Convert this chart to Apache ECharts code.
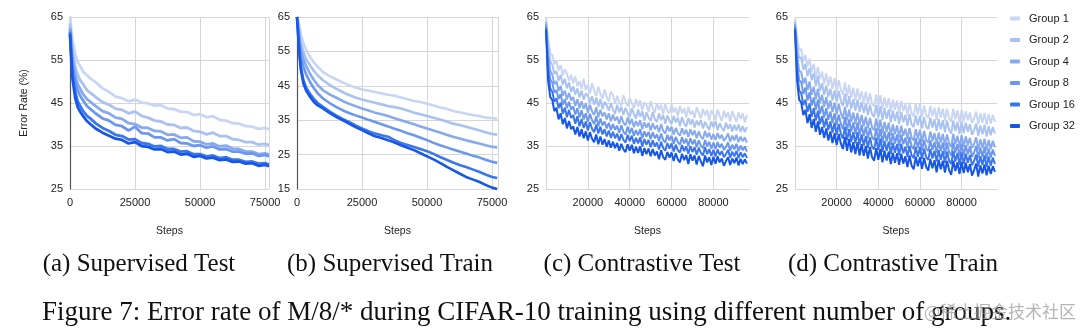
<!DOCTYPE html>
<html>
<head>
<meta charset="utf-8">
<script src="https://cdn.jsdelivr.net/npm/echarts@6/dist/echarts.min.js"></script>
<style>
html,body{margin:0;padding:0;background:#fff;}
#chart{width:1080px;height:333px;}
</style>
</head>
<body>
<div id="chart"></div>
<script>
// ---------- DATA ----------
const groupNames = ['Group 1','Group 2','Group 4','Group 8','Group 16','Group 32'];
const panelCaptions = ['(a) Supervised Test','(b) Supervised Train','(c) Contrastive Test','(d) Contrastive Train'];
const figureCaption = 'Figure 7: Error rate of M/8/* during CIFAR-10 training using different number of groups.';
const watermark = '@稀土掘金技术社区';
const yAxisName = 'Error Rate (%)';
const xAxisName = 'Steps';

// (a) Supervised Test
const stepsA = [0,500,1000,2000,3000,4000,5000,6500,8000,10000,12500,15000,17500,20000,22500,25000,27500,30000,32500,35000,37500,40000,42500,45000,47500,50000,52500,55000,57500,60000,62500,65000,67500,70000,72500,75000,76500];
const supTestG1 = [65,62,59.5,56.5,54.5,53.5,52.3,51.5,50.6,49.8,48.4,47.6,46.5,46.1,45.4,45.8,45.1,44.9,44.4,44.5,43.7,43.6,43.0,42.9,42.2,42.4,41.7,41.9,41.1,40.9,40.3,40.2,39.6,39.5,39.0,39.2,38.9];
const supTestG2 = [63.5,60,57,53.5,51.5,50.2,49.4,48.0,47.3,46.3,45.2,44.6,43.7,43.4,42.6,43.0,42.0,41.6,40.9,40.7,40.0,39.9,39.2,39.3,38.5,38.3,37.7,38.1,37.3,37.3,36.6,36.4,35.9,35.9,35.3,35.5,35.2];
const supTestG4 = [62.5,58.5,55,51.5,49.3,48.2,47.1,45.9,45.2,44.2,43.1,42.6,41.6,41.3,40.3,40.1,39.3,39.2,38.5,38.4,37.6,37.7,36.9,37.0,36.1,36.0,35.4,35.6,34.9,35.1,34.4,34.3,33.7,33.7,33.1,33.3,33.0];
const supTestG8 = [62,57.5,53.5,50,47.8,46.6,45.6,44.3,43.5,42.5,41.4,40.9,39.9,39.6,38.6,39.5,38.0,37.9,37.0,37.0,36.3,36.6,35.7,35.6,35.0,35.2,34.6,34.9,34.2,34.3,33.7,33.7,33.2,33.3,32.7,32.9,32.6];
const supTestG16 = [61.5,56,51.5,47.5,45.4,44.2,43.2,42.0,41.3,40.2,39.2,38.5,37.6,37.3,36.5,36.6,35.7,35.5,34.9,35.0,34.3,34.3,33.7,33.8,33.1,33.1,32.6,32.8,32.2,32.4,31.8,31.8,31.3,31.4,30.9,31.0,30.7];
const supTestG32 = [61,55,50.5,46.2,44.0,42.9,42.0,40.8,40.0,39.0,38.1,37.4,36.7,36.4,35.6,35.9,35.0,34.8,34.2,34.3,33.6,33.7,33.0,33.2,32.5,32.7,32.1,32.3,31.7,31.9,31.3,31.4,30.9,31.0,30.4,30.6,30.3];

// (b) Supervised Train
const stepsB = [0,500,1000,1500,2500,3500,5000,6500,8000,10000,12500,15000,17500,20000,22500,25000,27500,30000,32500,35000,37500,40000,42500,45000,47500,50000,52500,55000,57500,60000,62500,65000,67500,70000,72500,75000,77000];
const supTrainG1 = [65,64,62,60,57.3,55.5,53.4,51.8,50.5,49.0,47.8,46.9,46.0,45.2,44.5,43.9,43.6,43.2,42.8,42.4,42.1,41.6,41.1,40.6,40.3,39.8,39.3,38.7,38.3,37.7,37.3,36.9,36.5,36.2,35.8,35.6,35.4];
const supTrainG2 = [65,63,60,57.5,54.8,52.8,51.0,49.3,48.0,46.6,45.3,44.2,43.2,42.3,41.6,41.0,40.5,40.1,39.6,39.1,38.8,38.4,37.8,37.2,36.7,36.2,35.7,35.2,34.6,34.0,33.6,33.1,32.6,32.1,31.5,31.0,30.8];
const supTrainG4 = [65,62,58.5,55.5,52.9,50.8,48.5,46.7,45.2,43.7,42.5,41.6,40.6,39.8,39.1,38.4,37.8,37.2,36.7,36.2,35.6,35.0,34.4,33.8,33.2,32.6,32.0,31.4,30.8,30.2,29.7,29.2,28.7,28.2,27.7,27.3,27.1];
const supTrainG8 = [65,61,57,53.5,50.5,48.3,46.1,44.3,42.8,41.3,40.0,38.9,37.9,37.1,36.4,35.8,35.1,34.5,33.8,33.2,32.5,31.9,31.2,30.6,29.9,29.2,28.4,27.7,27.1,26.5,25.9,25.3,24.7,24.2,23.5,22.9,22.6];
const supTrainG16 = [65,59.5,54.5,50.5,46.6,44.5,42.7,41.2,40.0,38.9,37.6,36.4,35.4,34.5,33.5,32.6,31.8,31.1,30.6,30.2,29.2,28.4,27.8,27.2,26.6,26.0,25.2,24.3,23.5,22.7,22.0,21.4,20.7,20.0,19.2,18.5,18.2];
const supTrainG32 = [65,59,53.5,49.5,45.6,43.6,41.8,40.3,39.3,38.4,37.1,36.0,35.0,34.0,33.0,32.1,31.2,30.3,29.8,29.2,28.5,27.7,27.0,26.3,25.4,24.5,23.6,22.6,21.5,20.5,19.5,18.5,17.8,17.1,16.2,15.4,15.0];

// (c) Contrastive Test and (d) Contrastive Train: logged every 1000 steps, 0..96000
const stepsCD = [0,1000,2000,3000,4000,5000,6000,7000,8000,9000,
 10000,11000,12000,13000,14000,15000,16000,17000,18000,19000,
 20000,21000,22000,23000,24000,25000,26000,27000,28000,29000,
 30000,31000,32000,33000,34000,35000,36000,37000,38000,39000,
 40000,41000,42000,43000,44000,45000,46000,47000,48000,49000,
 50000,51000,52000,53000,54000,55000,56000,57000,58000,59000,
 60000,61000,62000,63000,64000,65000,66000,67000,68000,69000,
 70000,71000,72000,73000,74000,75000,76000,77000,78000,79000,
 80000,81000,82000,83000,84000,85000,86000,87000,88000,89000,
 90000,91000,92000,93000,94000,95000,96000];

const conTestG1 = [65,60.2,56.6,56.1,54.0,54.9,52.6,53.8,51.4,52.9,
 51.8,50.2,51.6,49.6,51.2,48.9,50.1,48.3,50.6,48.0,
 49.3,47.2,49.6,47.9,46.6,48.8,47.1,46.0,48.2,46.4,
 45.3,47.6,46.9,44.8,46.7,45.1,44.4,46.8,45.4,44.2,
 46.1,44.9,43.8,45.9,44.2,45.6,43.3,45.2,44.6,42.9,
 45.4,43.8,42.8,45.0,43.4,44.6,42.4,44.8,43.1,42.6,
 44.7,42.8,43.9,41.9,44.3,42.6,43.8,41.7,44.1,42.3,
 43.2,41.5,44.0,42.8,41.4,43.6,42.1,43.4,41.0,43.3,
 42.4,41.1,43.5,42.0,40.8,43.2,41.6,42.9,40.7,43.1,
 41.9,40.6,42.8,41.3,42.6,40.5,42.2];
const conTestG2 = [64,58.3,54.6,53.9,51.8,52.4,50.2,51.5,49.3,50.6,
 48.4,49.8,47.6,48.9,47.0,48.4,46.3,47.9,45.8,47.2,
 46.8,45.1,46.6,44.6,46.2,44.1,45.9,43.6,45.3,44.5,
 43.2,45.0,43.4,42.5,44.6,42.8,44.1,42.2,43.9,42.6,
 41.7,43.8,42.4,41.4,43.5,41.8,43.1,40.9,42.8,41.6,
 40.8,42.9,41.2,40.6,42.6,41.0,42.2,40.2,42.1,40.9,
 40.1,42.0,40.5,41.6,39.6,41.7,40.2,39.5,41.5,40.0,
 41.2,39.3,40.9,39.8,41.0,39.1,40.6,39.6,38.8,40.7,
 39.4,40.8,38.7,40.3,39.2,38.5,40.4,39.0,40.1,38.4,
 39.9,38.6,40.0,38.3,39.6,38.2,39.4];
const conTestG4 = [63.5,56.2,52.5,51.6,49.4,50.1,47.8,49.0,46.7,47.9,
 45.8,47.4,45.6,46.4,44.3,45.9,43.8,45.4,43.6,44.9,
 42.7,44.6,43.1,42.2,44.0,41.7,43.4,41.9,42.8,41.2,
 42.6,40.7,42.3,40.9,41.8,40.1,41.9,40.4,39.8,41.6,
 40.0,41.3,39.4,40.8,39.6,41.0,38.9,40.5,39.3,40.4,
 38.6,40.3,38.9,39.8,38.2,40.1,38.5,37.9,39.7,38.4,
 39.5,37.6,39.2,38.0,37.4,39.1,37.7,38.8,37.1,38.9,
 37.5,38.6,36.8,38.4,37.2,36.6,38.5,37.0,38.1,36.5,
 37.8,36.4,38.0,36.7,37.6,36.2,36.9,37.9,36.0,37.4,
 36.3,37.6,35.9,37.2,36.1,37.0,35.8];
const conTestG8 = [63,54.3,50.5,49.7,47.4,48.0,45.9,47.1,44.6,45.9,
 43.8,45.3,43.5,44.2,42.3,43.8,41.7,43.3,41.2,42.6,
 40.6,42.5,41.0,40.1,41.9,39.6,41.4,39.8,40.7,39.1,
 40.4,38.7,40.1,38.8,39.7,38.1,39.8,38.3,37.7,39.5,
 37.9,39.2,37.4,38.7,37.5,38.9,36.8,38.4,37.2,38.3,
 36.6,38.2,36.8,37.7,36.1,37.9,36.4,35.8,37.6,36.3,
 37.4,35.5,37.1,35.9,35.3,37.0,35.6,36.7,35.0,36.8,
 35.4,36.5,34.7,36.3,35.1,34.5,36.4,34.9,36.0,34.4,
 35.8,34.3,35.9,34.6,35.5,34.1,34.8,35.8,33.9,35.3,
 34.2,35.5,33.8,35.1,34.0,34.9,33.7];
const conTestG16 = [62.5,52.4,48.4,47.6,45.3,46.1,43.8,45.1,42.5,43.9,
 41.7,43.4,41.5,42.2,40.2,41.9,39.6,41.3,39.2,40.7,
 38.6,40.5,39.0,38.2,40.0,37.9,39.5,37.7,38.9,37.2,
 38.6,36.9,38.3,36.8,37.9,36.2,37.8,36.4,35.8,37.6,
 36.1,37.4,35.5,36.9,35.6,37.0,34.9,36.6,35.3,36.4,
 34.7,36.3,34.9,35.8,34.2,36.0,34.5,33.9,35.7,34.4,
 35.6,33.7,35.3,34.0,33.5,35.2,33.8,34.9,33.2,35.0,
 33.6,34.7,33.0,34.6,33.4,32.8,34.7,33.1,34.3,32.7,
 34.1,32.6,34.2,32.9,33.8,32.4,33.1,34.1,32.3,33.7,
 32.6,33.9,32.2,33.5,32.4,33.3,32.2];
const conTestG32 = [62,50.3,46.4,45.7,43.1,43.9,41.2,42.6,40.1,41.5,
 39.1,40.8,38.9,39.6,37.7,39.4,37.2,38.9,36.8,38.4,
 36.3,38.2,36.7,35.9,37.7,35.4,37.2,35.3,36.6,34.8,
 36.3,34.6,36.0,34.5,35.7,33.9,35.5,34.2,33.6,35.4,
 33.9,35.3,33.3,34.8,33.4,34.9,32.7,34.5,33.1,34.4,
 32.6,34.3,32.8,33.7,31.9,34.0,32.4,31.8,33.6,32.3,
 33.5,31.5,33.3,31.9,31.2,33.2,31.7,32.9,30.8,33.1,
 31.6,32.8,30.7,32.7,31.4,30.3,32.8,31.2,32.4,30.6,
 32.5,30.9,32.6,31.2,32.1,30.4,31.5,32.4,30.6,32.1,
 31.0,32.3,30.5,32.0,30.8,31.9,30.9];

const conTrainG1 = [64.5,60.4,57.3,57.6,54.6,56.2,53.5,55.3,52.2,54.1,
 50.9,53.4,50.6,52.3,49.4,51.9,49.0,51.2,48.3,50.8,
 47.7,50.3,48.1,46.9,49.8,46.5,49.2,46.2,48.5,45.7,
 48.4,45.6,47.7,45.1,47.6,44.7,47.2,44.9,44.2,47.0,
 44.1,46.8,43.6,46.3,43.9,46.1,42.9,45.8,43.4,45.6,
 42.6,45.5,43.1,44.8,42.2,45.1,42.6,41.9,44.9,42.3,
 44.8,41.7,44.4,42.1,41.5,44.3,41.9,43.9,41.1,44.0,
 41.6,43.7,40.8,43.6,41.4,40.6,43.7,41.2,43.3,40.5,
 43.4,40.7,43.1,41.0,42.8,40.3,41.4,43.0,40.1,42.6,
 40.4,42.7,39.9,42.4,40.2,42.2,40.6];
const conTrainG2 = [64,58.2,55.4,55.6,52.7,54.1,51.2,53.1,50.3,52.0,
 48.9,51.3,47.8,49.6,46.9,49.1,46.4,48.3,45.6,47.9,
 45.3,47.8,45.6,44.3,47.1,44.0,46.6,43.6,45.9,43.2,
 45.8,42.9,45.3,42.7,44.9,42.2,44.6,42.4,41.8,44.5,
 41.6,44.2,41.1,43.8,41.3,43.5,40.5,43.2,40.8,43.0,
 40.1,42.9,40.5,42.2,39.7,42.4,40.0,39.4,42.1,39.8,
 42.0,39.1,41.7,39.5,38.9,41.6,39.3,41.2,38.5,41.3,
 38.9,41.0,38.2,40.9,38.8,37.9,40.9,38.5,40.6,37.8,
 40.7,38.0,40.4,38.3,40.1,37.6,38.7,40.2,37.4,39.8,
 37.7,39.9,37.2,39.6,37.5,39.4,37.9];
const conTrainG4 = [63.5,56.3,52.4,52.2,49.5,50.9,48.0,50.0,46.9,48.8,
 45.9,48.3,45.0,46.9,44.1,46.4,43.6,45.6,42.9,45.1,
 42.4,44.8,42.7,41.3,44.1,40.9,43.5,40.6,42.8,40.1,
 42.7,39.8,42.2,39.6,41.8,39.1,41.5,39.3,38.7,41.4,
 38.5,41.1,38.0,40.6,38.3,40.4,37.4,40.0,37.7,39.8,
 37.0,39.7,37.4,39.0,36.6,39.2,36.9,36.3,38.9,36.6,
 38.8,36.0,38.5,36.4,35.8,38.4,36.1,38.0,35.4,38.1,
 35.8,37.8,35.1,37.7,35.6,34.8,37.8,35.4,37.4,34.6,
 37.5,34.8,37.2,35.1,36.9,34.5,35.5,37.0,34.2,36.6,
 34.5,36.7,34.0,36.4,34.3,36.2,34.7];
const conTrainG8 = [63,54.4,50.3,49.9,47.1,48.6,45.6,47.5,44.4,46.3,
 43.4,45.8,42.5,44.3,41.6,43.8,41.1,43.0,40.4,42.6,
 39.9,42.3,40.2,38.9,41.7,38.6,41.2,38.3,40.5,37.8,
 40.4,37.5,39.9,37.3,39.5,36.8,39.2,37.0,36.4,39.1,
 36.3,38.9,35.8,38.4,36.1,38.2,35.3,37.9,35.6,37.7,
 35.0,37.6,35.4,36.9,34.6,37.1,34.9,34.3,36.8,34.6,
 36.7,34.0,36.4,34.4,33.8,36.3,34.1,35.9,33.4,36.0,
 33.8,35.8,33.1,35.7,33.6,32.8,35.8,33.4,35.4,32.6,
 35.5,32.8,35.2,33.1,34.9,32.5,33.5,35.0,32.2,34.6,
 32.5,34.7,32.0,34.4,32.3,34.2,32.7];
const conTrainG16 = [62.5,52.3,47.9,47.3,44.5,45.8,42.9,44.9,41.8,43.8,
 40.9,43.2,40.1,41.9,39.3,41.4,38.7,40.7,38.1,40.4,
 37.6,40.1,37.9,36.7,39.4,36.3,38.9,36.0,38.2,35.6,
 38.2,35.3,37.7,35.1,37.3,34.6,37.0,34.8,34.2,36.9,
 34.1,36.7,33.6,36.2,33.9,36.0,33.1,35.7,33.4,35.5,
 32.9,35.5,33.3,34.8,32.5,35.0,32.8,32.2,34.7,32.5,
 34.7,32.0,34.4,32.4,31.8,34.3,32.1,33.9,31.4,34.0,
 31.8,33.8,31.1,33.7,31.6,30.8,33.8,31.4,33.4,30.6,
 33.5,30.8,33.2,31.1,32.9,30.5,31.5,33.0,30.2,32.6,
 30.6,32.8,30.1,32.5,30.4,32.3,30.8];
const conTrainG32 = [62,50.2,45.8,45.1,42.2,43.4,40.3,42.4,39.2,41.3,
 38.3,40.7,37.6,39.4,36.9,39.1,36.3,38.4,35.7,38.0,
 35.2,37.8,35.6,34.3,37.1,33.9,36.6,33.5,35.9,33.1,
 35.9,32.8,35.4,32.7,35.0,32.1,34.7,32.4,31.6,34.5,
 31.8,34.3,31.2,33.9,31.6,33.7,30.8,33.4,31.1,33.3,
 30.6,33.2,30.9,32.6,30.1,32.8,30.4,29.6,32.5,30.3,
 32.4,29.7,32.2,30.1,29.3,32.0,29.8,31.7,28.9,31.8,
 29.6,31.6,28.8,31.5,29.4,28.3,31.6,29.2,31.2,28.5,
 31.3,28.7,31.1,28.9,30.8,28.1,29.4,30.9,27.9,30.5,
 28.6,30.7,28.2,30.4,28.5,30.3,29.0];

const yTicksA = {min:25, max:65, interval:10};
const yTicksB = {min:15, max:65, interval:10};

// ---------- STYLE / LAYOUT ----------
const colors = ['#c8d6f4','#a9c2f2','#87a9ee','#6c97ef','#3b76ec','#1657e8'];
const axisFont = '"Liberation Sans", Arial, sans-serif';
const serifFont = '"Liberation Serif", "Times New Roman", serif';
const grids = [
  {left:70, top:17, width:199, height:172},
  {left:297, top:17, width:201, height:172},
  {left:546, top:17, width:203, height:172},
  {left:795, top:17, width:202, height:172}
];
const xMax = [76500, 77300, 97000, 97000];
const xInterval = [25000, 25000, 20000, 20000];
const lineWidths = [2.8, 2.6, 2, 2];
const panelSteps = [stepsA, stepsB, stepsCD, stepsCD];
const panelData = [
  [supTestG1,supTestG2,supTestG4,supTestG8,supTestG16,supTestG32],
  [supTrainG1,supTrainG2,supTrainG4,supTrainG8,supTrainG16,supTrainG32],
  [conTestG1,conTestG2,conTestG4,conTestG8,conTestG16,conTestG32],
  [conTrainG1,conTrainG2,conTrainG4,conTrainG8,conTrainG16,conTrainG32]
];
const yRanges = [yTicksA, yTicksB, yTicksA, yTicksA];
const gridColor = '#d6d6d6';
const textColor = '#222';

const xAxes = grids.map((g,i)=>({
  type:'value', gridIndex:i, min:0, max:xMax[i], interval:xInterval[i],
  axisLine:{show:false}, axisTick:{show:false},
  axisLabel:{fontSize:11, color:textColor, fontFamily:axisFont, margin:8,
    showMaxLabel:false, showMinLabel: i<2, formatter:v=>String(v)},
  splitLine:{show:true, lineStyle:{color:gridColor, width:1}, showMaxLine: i<2},
  name:xAxisName, nameLocation:'middle', nameGap:37,
  nameTextStyle:{fontSize:10.5, color:textColor, fontFamily:axisFont}
}));
const yAxes = grids.map((g,i)=>({
  type:'value', gridIndex:i, min:yRanges[i].min, max:yRanges[i].max, interval:yRanges[i].interval,
  axisLine:{show: i<2, lineStyle:{color:'#555', width:1.2}}, axisTick:{show:false},
  axisLabel:{fontSize:11, color:textColor, fontFamily:axisFont, margin:7},
  splitLine:{show:true, lineStyle:{color:gridColor, width:1}},
  name: i===0 ? yAxisName : '', nameLocation:'middle', nameGap:40, nameRotate:90,
  nameTextStyle:{fontSize:10.5, color:textColor, fontFamily:axisFont}
}));

const series = [];
panelData.forEach((groups,p)=>{
  groups.forEach((ys,k)=>{
    series.push({
      type:'line', name:groupNames[k], xAxisIndex:p, yAxisIndex:p,
      data: panelSteps[p].map((s,j)=>[s, ys[j]]),
      showSymbol:false, symbol:'none', color:colors[k],
      lineStyle:{width:lineWidths[p], color:colors[k]},
      clip:true, z:2+k
    });
  });
});

const captionCenters = [139, 390, 642, 893];
const graphics = panelCaptions.map((t,i)=>({
  type:'text', style:{text:t, x:captionCenters[i], y:264, textAlign:'center', textVerticalAlign:'middle',
    font:'25px ' + serifFont, fill:'#111'}
}));
graphics.push({type:'text', style:{text:figureCaption, x:42, y:313, textAlign:'left', textVerticalAlign:'middle',
  font:'27px ' + serifFont, fill:'#111'}});
graphics.push({type:'text', z:100, style:{text:watermark, x:1076, y:312, textAlign:'right', textVerticalAlign:'middle',
  font:'17px "Noto Sans CJK SC", sans-serif', fill:'rgba(150,150,150,0.7)'}});

const chart = echarts.init(document.getElementById('chart'), null, {renderer:'canvas'});
chart.setOption({
  animation:false,
  backgroundColor:'#fff',
  grid:grids,
  xAxis:xAxes,
  yAxis:yAxes,
  legend:{
    data:groupNames, orient:'vertical', left:1005, top:8,
    icon:'roundRect', itemWidth:10, itemHeight:4, itemGap:10.5,
    textStyle:{fontSize:11, color:textColor, fontFamily:axisFont, padding:[0,0,0,4]}
  },
  series:series,
  graphic:graphics
});
</script>
</body>
</html>
